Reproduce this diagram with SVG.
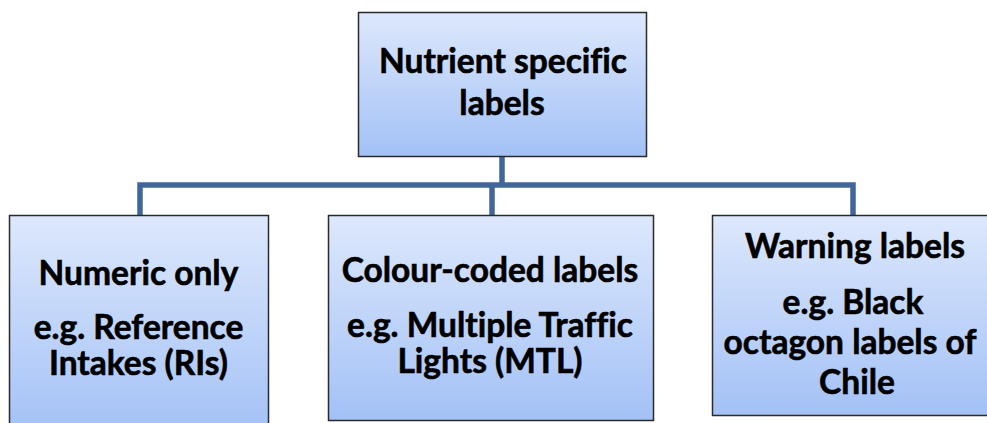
<svg xmlns="http://www.w3.org/2000/svg" width="987" height="423" viewBox="0 0 987 423">
  <defs>
    <linearGradient id="boxFill" x1="0" y1="0" x2="0" y2="1">
      <stop offset="0" stop-color="#dde8fc"/>
      <stop offset="1" stop-color="#a3c1f6"/>
    </linearGradient>
  </defs>
  <style>
    .box { fill: url(#boxFill); stroke: #2a2a2a; stroke-width: 1.5; }
    .lbl { font-family: Lato, "Open Sans", "Liberation Sans", sans-serif; font-weight: bold; font-size: 33.5px; fill: #000; stroke: #000; stroke-width: 0.6; font-variant-ligatures: none; text-anchor: middle; }
    .wire { fill: none; stroke: #41679a; stroke-width: 5.5; stroke-linejoin: miter; stroke-linecap: butt; }
  </style>

  <!-- tree connectors -->
  <g id="connectors">
    <path class="wire" d="M502,156 V185"/>
    <path class="wire" d="M140,215 V185 H853 V215"/>
    <path class="wire" d="M492,185 V215"/>
  </g>

  <g id="node-root">
    <rect class="box" x="358.5" y="12.5" width="288" height="144"/>
    <text class="lbl" x="503" y="73">Nutrient specific</text>
    <text class="lbl" x="502" y="115">labels</text>
  </g>

  <g id="node-numeric">
    <rect class="box" x="9.5" y="215.5" width="259" height="220"/>
    <text class="lbl" x="138.5" y="285">Numeric only</text>
    <text class="lbl" x="138.5" y="339">e.g. Reference</text>
    <text class="lbl" x="138.5" y="375">Intakes (RIs)</text>
  </g>

  <g id="node-colour">
    <rect class="box" x="328.5" y="215.5" width="325" height="205"/>
    <text class="lbl" x="490" y="282">Colour-coded labels</text>
    <text class="lbl" x="490" y="337">e.g. Multiple Traffic</text>
    <text class="lbl" x="490" y="373">Lights (MTL)</text>
  </g>

  <g id="node-warning">
    <rect class="box" x="712.5" y="215.5" width="290" height="200"/>
    <text class="lbl" x="855" y="258">Warning labels</text>
    <text class="lbl" x="853" y="314">e.g. Black</text>
    <text class="lbl" x="850" y="354">octagon labels of</text>
    <text class="lbl" x="857" y="394">Chile</text>
  </g>
</svg>
